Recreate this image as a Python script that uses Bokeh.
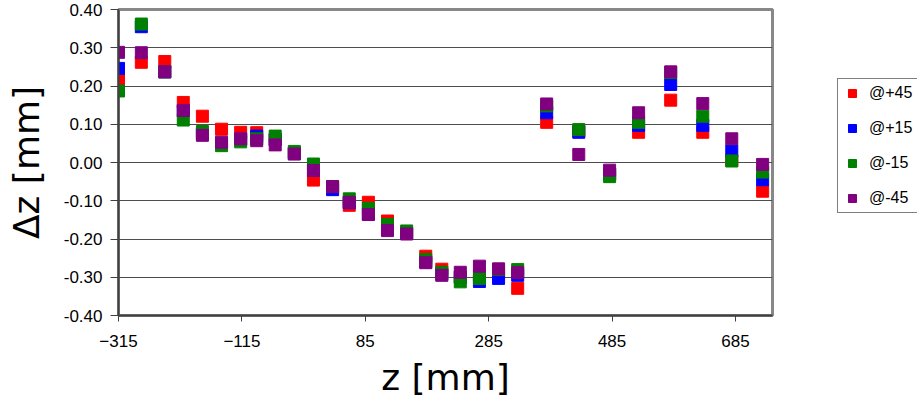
from bokeh.plotting import figure
from bokeh.models import FixedTicker, NumeralTickFormatter, Legend, LegendItem, ColumnDataSource
from bokeh.embed import file_html
from bokeh.resources import INLINE

z = [-315, -278, -240, -210, -179, -148, -117, -91, -61, -30, 1, 32, 59, 90, 121,
     152, 183, 209, 239, 270, 301, 332, 379, 431, 481, 528, 580, 632, 679, 729]
dz_p45 = [0.216, 0.262, 0.264, 0.157, 0.121, 0.087, 0.079, 0.078, 0.060, 0.024, -0.046, -0.065, -0.112, -0.104, -0.153,
          -0.185, -0.245, -0.279, -0.300, -0.295, -0.290, -0.329, 0.105, 0.082, -0.030, 0.079, 0.163, 0.079, 0.005, -0.075]
dz_p15 = [0.246, 0.355, 0.237, 0.135, 0.075, 0.050, 0.060, 0.069, 0.060, 0.024, -0.020, -0.071, -0.105, -0.135, -0.175,
          -0.185, -0.260, -0.292, -0.300, -0.311, -0.303, -0.295, 0.130, 0.079, -0.030, 0.097, 0.204, 0.097, 0.030, -0.045]
dz_m15 = [0.187, 0.362, 0.237, 0.111, 0.081, 0.044, 0.054, 0.062, 0.069, 0.029, -0.004, -0.063, -0.095, -0.120, -0.162,
          -0.179, -0.254, -0.287, -0.312, -0.303, -0.280, -0.280, 0.148, 0.086, -0.037, 0.105, 0.235, 0.121, 0.004, -0.025]
dz_m45 = [0.288, 0.287, 0.237, 0.136, 0.071, 0.053, 0.062, 0.057, 0.046, 0.022, -0.021, -0.063, -0.104, -0.136, -0.178,
          -0.187, -0.262, -0.295, -0.287, -0.271, -0.278, -0.288, 0.153, 0.021, -0.020, 0.130, 0.237, 0.154, 0.062, -0.005]

series_names = ["@+45", "@+15", "@-15", "@-45"]
series_colors = ["#FF0000", "#0000FF", "#008000", "#800080"]
x_ticks = [-315, -115, 85, 285, 485, 685]
y_ticks = [-0.4, -0.3, -0.2, -0.1, 0.0, 0.1, 0.2, 0.3, 0.4]

p = figure(width=909, height=403, frame_width=654, frame_height=306,
           x_range=(-315, 745), y_range=(-0.4, 0.4),
           min_border_left=118, min_border_right=137, min_border_top=9, min_border_bottom=88,
           output_backend="svg", toolbar_location=None)

p.background_fill_color = "white"
p.outline_line_color = "#888888"
p.outline_line_width = 3

p.xgrid.grid_line_color = None
p.ygrid.grid_line_color = "#4d4d4d"
p.ygrid.grid_line_width = 1

p.xaxis.ticker = FixedTicker(ticks=x_ticks)
p.yaxis.ticker = FixedTicker(ticks=y_ticks)
p.yaxis.formatter = NumeralTickFormatter(format="0.00")
p.xaxis.minor_tick_line_color = None
p.yaxis.minor_tick_line_color = None

for ax in (p.xaxis[0], p.yaxis[0]):
    ax.axis_line_color = "#404040"
    ax.axis_line_width = 2
    ax.major_tick_line_color = "#404040"
    ax.major_tick_line_width = 1
    ax.major_tick_in = 0
    ax.major_label_text_font = "Liberation Sans"
    ax.major_label_text_font_size = "17px"
    ax.major_label_text_color = "black"
    ax.axis_label_text_font = "DejaVu Sans"
    ax.axis_label_text_font_size = "36px"
    ax.axis_label_text_font_style = "normal"
    ax.axis_label_text_color = "black"

p.xaxis.major_tick_out = 6
p.yaxis.major_tick_out = 8
p.xaxis.major_label_standoff = 13
p.yaxis.major_label_standoff = 8
p.xaxis.axis_label = "z [mm]"
p.yaxis.axis_label = "\u0394z [mm]"
p.xaxis.axis_label_standoff = 7
p.yaxis.axis_label_standoff = 14

items = []
for name, col, vals in zip(series_names, series_colors, [dz_p45, dz_p15, dz_m15, dz_m45]):
    src = ColumnDataSource(dict(x=z, y=vals))
    r = p.scatter("x", "y", source=src, marker="square", size=12,
                  fill_color=col, line_color=col, line_width=1)
    items.append(LegendItem(label=name, renderers=[r]))

legend = Legend(items=items, location=(65, 102))
legend.border_line_color = "black"
legend.border_line_width = 1
legend.background_fill_color = "white"
legend.background_fill_alpha = 1
legend.label_text_font = "Liberation Sans"
legend.label_text_font_size = "16px"
legend.label_text_color = "black"
legend.glyph_width = 20
legend.glyph_height = 20
legend.label_height = 20
legend.label_width = 60
legend.spacing = 15
legend.padding = 4
legend.margin = 0
legend.label_standoff = 7
p.add_layout(legend, "right")

open("out.html", "w").write(file_html(p, INLINE))
